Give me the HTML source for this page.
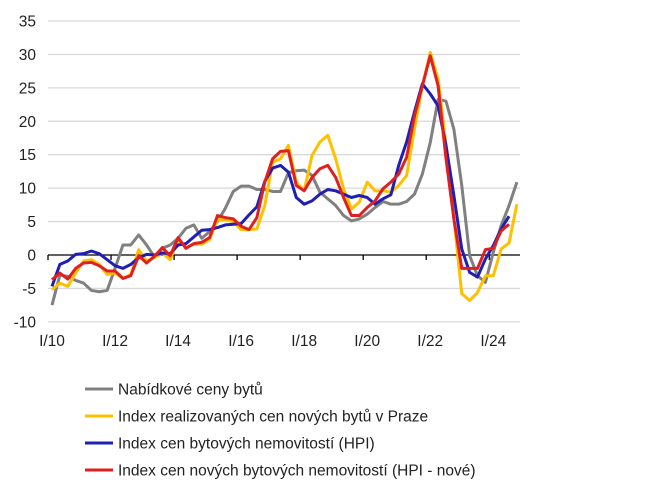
<!DOCTYPE html>
<html><head><meta charset="utf-8"><style>
body{margin:0;background:#fff;font-family:"Liberation Sans",Arial,sans-serif;}
svg text{font-family:"Liberation Sans",Arial,sans-serif;fill:#222;}
</style></head><body>
<svg id="chart" width="645" height="487" xmlns="http://www.w3.org/2000/svg">
<g id="grid"></g>
<g id="yaxis"></g>
<g id="xaxis"></g>
<g id="series"></g>
<g id="legend"></g>
</svg>
<script>
const yTicks=[35,30,25,20,15,10,5,0,-5,-10];
const xLabels=["I/10","I/12","I/14","I/16","I/18","I/20","I/22","I/24"];
const grayValues=[-7.5,-3,-3.2,-3.8,-4.2,-5.3,-5.5,-5.3,-2,1.5,1.5,3,1.5,-0.3,1,1.5,2.5,4,4.5,2.5,3.5,5,7,9.5,10.3,10.3,9.8,9.8,9.5,9.5,12.3,12.6,12.7,11.9,9.4,8.4,7.4,5.9,5.1,5.4,6.1,7.1,8,7.6,7.6,8,9.1,12.1,16.8,23.3,23,18.8,10.4,-0.1,-3.1,-4.1,0.4,4.4,7.4,10.9];
const yellowValues=[-5.2,-4.2,-4.7,-2.7,-0.9,-0.7,-1.4,-2.9,-2.7,-3.5,-2.9,0.8,-0.9,-0.4,0.3,-0.7,2.3,1.1,1.6,1.6,2.3,5.3,5.3,5,3.8,3.8,3.9,7.4,13.9,14.4,16.4,10.9,9.6,14.9,16.9,17.9,14.4,9.9,6.9,7.9,10.9,9.6,9.6,9.4,10.4,11.9,18.9,25.3,30.3,26.3,16.4,5.4,-5.8,-6.8,-5.6,-3.1,-3.1,0.9,1.8,7.6];
const blueValues=[-4.7,-1.4,-0.9,0.1,0.2,0.6,0.2,-0.7,-1.6,-2,-1.4,-0.4,0.1,0,0.3,0.2,1.5,1.7,2.7,3.7,3.8,4.1,4.5,4.6,4.7,6,7.2,11,13,13.4,12.4,8.6,7.6,8.1,9.1,9.8,9.6,9.1,8.6,8.9,8.6,7.6,8.4,9,13.4,16.9,21.4,25.6,24.1,22.3,16.4,8.9,0.9,-2.6,-3.3,-0.6,1.4,3.9,5.8];
const redValues=[-3.7,-2.7,-3.6,-2,-1.2,-1.1,-1.6,-2.4,-2.4,-3.5,-3.1,-0.1,-1.2,-0.2,1.1,-0.1,2.6,1,1.7,1.9,2.6,5.9,5.6,5.4,4.3,3.8,5.6,10.9,14.4,15.5,15.6,10.4,9.6,11.6,12.9,13.4,11.6,8.6,5.9,5.9,7.1,8.1,9.9,10.9,12.1,14.6,20.8,25.3,29.8,25.3,14.4,5.4,-2,-2,-2,0.8,1,3.6,4.6];
const seriesNames=["Nabídkové ceny bytů","Index realizovaných cen nových bytů v Praze","Index cen bytových nemovitostí (HPI)","Index cen nových bytových nemovitostí (HPI - nové)"];
const NS="http://www.w3.org/2000/svg";
const X0=52,QW=7.88,Y0=255,PU=6.686,GL=48,GR=520;
function xs(i){return X0+QW*i;}
function ys(v){return Y0-v*PU;}
function mk(t,a,p){const e=document.createElementNS(NS,t);for(const k in a)e.setAttribute(k,a[k]);p.appendChild(e);return e;}
const grid=document.getElementById('grid'),ya=document.getElementById('yaxis'),xa=document.getElementById('xaxis'),sg=document.getElementById('series'),lg=document.getElementById('legend');
yTicks.forEach(v=>{
 if(v!==0){const l=mk('line',{x1:GL,x2:GR,y1:ys(v),y2:ys(v),stroke:'#d9d9d9','stroke-width':1.3},grid);
 
 }
 const t=mk('text',{x:36,y:ys(v)+5.5,'text-anchor':'end','font-size':15.5},ya);t.textContent=v;
 
 
});
const ax=mk('line',{x1:GL,x2:GR,y1:ys(0),y2:ys(0),stroke:'#000','stroke-width':1.3},xa);


xLabels.forEach((s,k)=>{
 const tx=GL+k*8*QW;
 const tk=mk('line',{x1:tx,x2:tx,y1:ys(0),y2:ys(0)+5,stroke:'#000','stroke-width':1.3},xa);
 
 
 const t=mk('text',{x:xs(k*8),y:346,'text-anchor':'middle','font-size':15.5},xa);t.textContent=s;
 
 
});
const data=[grayValues,yellowValues,blueValues,redValues];
const colors=['#808080','#ffc000','#1f1fb4','#e02020'];
const names=['series-nabidkove-ceny','series-realizovane-praha','series-hpi','series-hpi-nove'];
data.forEach((arr,s)=>{
 const p=mk('polyline',{points:arr.map((v,i)=>xs(i)+','+ys(v)).join(' '),fill:'none',stroke:colors[s],'stroke-width':3,'stroke-linejoin':'round'},sg);
 
 
});
seriesNames.forEach((n,s)=>{
 const y=389+s*27;
 const g=mk('g',{},lg);
 
 
 mk('line',{x1:85,x2:113,y1:y,y2:y,stroke:colors[s],'stroke-width':3},g);
 const t=mk('text',{x:118,y:y+5.5,'font-size':15.5},g);t.textContent=n;
});
</script>
</body></html>
